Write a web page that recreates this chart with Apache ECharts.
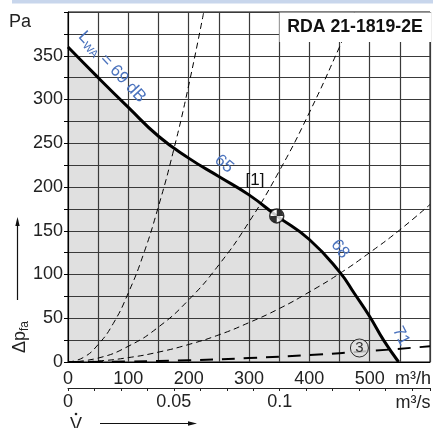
<!DOCTYPE html>
<html>
<head>
<meta charset="utf-8">
<script src="https://cdn.jsdelivr.net/npm/echarts@6/dist/echarts.min.js"></script>
<style>html,body{margin:0;padding:0;background:#fff;}#c{width:433px;height:428px;}</style>
</head>
<body>
<div id="c"></div>
<script>
// Fan characteristic curve (m³/h, Pa)
const flowFan = [0, 50, 100, 150, 200, 250, 300, 346, 400, 450, 475, 500, 523, 548];
const pFan    = [360, 325, 291, 258, 233, 212, 191, 167, 140, 103, 78, 52, 25, 0];
// System curves (dashed)
const flowA = [0, 25, 50, 75, 100, 125, 150, 175, 200, 225];
const pA    = [0, 5, 20, 44, 79, 123, 178, 242, 316, 400];
const flowB = [0, 50, 100, 150, 200, 250, 300, 350, 400, 450, 475];
const pB    = [0, 4.5, 18, 40, 71, 111, 160, 218, 285, 360, 400];
const flowC = [0, 50, 100, 150, 200, 250, 300, 350, 400, 450, 500, 550, 600];
const pC    = [0, 1.2, 5, 11.3, 20, 31, 45, 61, 80, 101, 125, 151, 180];
const flowD = [0, 100, 200, 300, 400, 500, 600];
const pD    = [0, 0.5, 2, 4.5, 8, 12.5, 18];
// Operating point and curve label ③
const opPoint = [346, 167];
const label3Point = [483, 16];
// Axis ticks
const xTicksM3h = [0, 100, 200, 300, 400, 500];
const xTicksM3s = [0, 0.05, 0.1];
const yTicks = [0, 50, 100, 150, 200, 250, 300, 350];

const zip = (a, b) => a.map((v, i) => [v, b[i]]);
const FONT = 'Liberation Sans, Arial, sans-serif';
const BLUE = '#4a72bd';

const chart = echarts.init(document.getElementById('c'));
const dashed = (name, fx, py, w, dash) => ({
  name, type: 'line', data: zip(fx, py), smooth: true, symbol: 'none', z: 4,
  lineStyle: { color: '#000', width: w, type: dash }, silent: true
});

chart.setOption({
  animation: false,
  grid: { left: 68, right: 1.5, top: 12, bottom: 66, show: true, borderColor: '#000', borderWidth: 1 },
  xAxis: [{
    type: 'value', min: 0, max: 600, interval: 50,
    axisLine: { lineStyle: { color: '#000', width: 1 } },
    axisTick: { show: false },
    axisLabel: { color: '#222', fontSize: 18, fontFamily: FONT, margin: 8,
      formatter: v => xTicksM3h.includes(v) ? String(v) : '' },
    splitLine: { show: true, lineStyle: { color: '#3a3a3a', width: 1.2 } }
  }, {
    type: 'value', min: 0, max: 0.171, interval: 0.0125, position: 'bottom', offset: 26,
    axisLine: { onZero: false, lineStyle: { color: '#222', width: 1 } },
    axisTick: { show: true, inside: false, length: 3, lineStyle: { color: '#222' } },
    axisLabel: { color: '#222', fontSize: 18, fontFamily: FONT, margin: 5,
      formatter: v => { const m = xTicksM3s.find(t => Math.abs(t - v) < 1e-6); return m === undefined ? '' : String(m); } },
    splitLine: { show: false }
  }],
  yAxis: {
    type: 'value', min: 0, max: 400, interval: 25,
    axisLine: { show: true, lineStyle: { color: '#000', width: 1 } },
    axisTick: { show: true, length: 4, lineStyle: { color: '#000' } },
    axisLabel: { color: '#222', fontSize: 18, fontFamily: FONT, margin: 5,
      formatter: v => yTicks.includes(v) ? String(v) : '' },
    splitLine: { show: true, lineStyle: { color: '#3a3a3a', width: 1.2 } }
  },
  series: [
    { name: 'area', type: 'line', data: zip(flowFan, pFan), smooth: true, symbol: 'none', z: -1,
      lineStyle: { width: 0 }, areaStyle: { color: '#e0e0e0', opacity: 1 }, silent: true },
    dashed('A', flowA, pA, 1, [6, 4]),
    dashed('B', flowB, pB, 1, [6, 4]),
    dashed('C', flowC, pC, 1, [6, 4]),
    dashed('D', flowD, pD, 2, [13, 9]),
    { name: 'fan', type: 'line', data: zip(flowFan, pFan), smooth: true, symbol: 'none', z: 5,
      lineStyle: { color: '#000', width: 3 }, silent: true },
    { name: 'op', type: 'scatter', data: [opPoint], symbol: 'circle', symbolSize: 14, z: 6,
      itemStyle: { color: '#fff', borderColor: '#000', borderWidth: 1.5 }, silent: true },
    { name: 'opq', type: 'scatter', data: [opPoint], z: 7,
      symbol: 'path://M0,0 L10,0 A10,10 0 0,0 0,-10 Z M0,0 L-10,0 A10,10 0 0,0 0,10 Z',
      symbolSize: 13, itemStyle: { color: '#000' }, silent: true },
    { name: 'l3', type: 'scatter', data: [label3Point], symbol: 'circle', symbolSize: 18, z: 6,
      itemStyle: { color: '#e0e0e0', borderColor: '#000', borderWidth: 1 },
      label: { show: true, position: 'inside', formatter: '3', color: '#000', fontSize: 15, fontFamily: FONT },
      silent: true }
  ],
  graphic: [
    { type: 'rect', shape: { x: 12, y: 0, width: 421, height: 3.5 }, style: { fill: '#c8d6ec' }, z: 50 },
    { type: 'rect', shape: { x: 279.5, y: 12.6, width: 151.6, height: 29.5 }, style: { fill: '#fff' }, z: 40 },
    { type: 'text', x: 355, y: 27, scaleX: 0.93, z: 60,
      style: { text: 'RDA 21-1819-2E', fontSize: 19, fontWeight: 'bold', fontFamily: FONT, fill: '#111', align: 'center', verticalAlign: 'middle' } },
    { type: 'text', x: 20, y: 22.5, z: 60,
      style: { text: 'Pa', fontSize: 18, fontFamily: FONT, fill: '#222', align: 'center', verticalAlign: 'middle' } },
    { type: 'text', x: 413, y: 379, z: 60,
      style: { text: 'm³/h', fontSize: 18, fontFamily: FONT, fill: '#222', align: 'center', verticalAlign: 'middle' } },
    { type: 'text', x: 413, y: 403, z: 60,
      style: { text: 'm³/s', fontSize: 18, fontFamily: FONT, fill: '#222', align: 'center', verticalAlign: 'middle' } },
    { type: 'text', x: 255, y: 180, z: 60,
      style: { text: '[1]', fontSize: 17, fontFamily: FONT, fill: '#111', align: 'center', verticalAlign: 'middle' } },
    { type: 'text', x: 112, y: 67, rotation: -0.82, z: 60,
      style: { text: '{a|L}{b|WA}{a| = 69 dB}', align: 'center', verticalAlign: 'middle',
        rich: { a: { fontSize: 17, fontFamily: FONT, fill: BLUE }, b: { fontSize: 11, fontFamily: FONT, fill: BLUE, padding: [9, 0, 0, 0] } } } },
    { type: 'text', x: 224, y: 164, rotation: -0.70, z: 60,
      style: { text: '65', fontSize: 17, fontFamily: FONT, fill: BLUE, align: 'center', verticalAlign: 'middle' } },
    { type: 'text', x: 340, y: 249, rotation: -0.90, z: 60,
      style: { text: '68', fontSize: 17, fontFamily: FONT, fill: BLUE, align: 'center', verticalAlign: 'middle' } },
    { type: 'text', x: 401, y: 336, rotation: -1.10, z: 60,
      style: { text: '71', fontSize: 17, fontFamily: FONT, fill: BLUE, align: 'center', verticalAlign: 'middle' } },
    { type: 'text', x: 20, y: 337, rotation: Math.PI / 2, z: 60,
      style: { text: '{a|Δp}{b|fa}', align: 'center', verticalAlign: 'middle',
        rich: { a: { fontSize: 18, fontFamily: FONT, fill: '#222' }, b: { fontSize: 12, fontFamily: FONT, fill: '#222', padding: [9, 0, 0, 0] } } } },
    { type: 'line', shape: { x1: 17.5, y1: 300, x2: 17.5, y2: 224 }, style: { stroke: '#111', lineWidth: 1.2 }, z: 60 },
    { type: 'polygon', shape: { points: [[17.5, 217], [15.3, 226], [19.7, 226]] }, style: { fill: '#111' }, z: 60 },
    { type: 'text', x: 76, y: 425, z: 60,
      style: { text: 'V', fontSize: 18, fontFamily: FONT, fill: '#222', align: 'center', verticalAlign: 'middle' } },
    { type: 'circle', shape: { cx: 76, cy: 414, r: 1.3 }, style: { fill: '#222' }, z: 60 },
    { type: 'line', shape: { x1: 100, y1: 423.5, x2: 190, y2: 423.5 }, style: { stroke: '#111', lineWidth: 1.2 }, z: 60 },
    { type: 'polygon', shape: { points: [[197, 423.5], [188, 421.3], [188, 425.7]] }, style: { fill: '#111' }, z: 60 }
  ]
});
</script>
</body>
</html>
